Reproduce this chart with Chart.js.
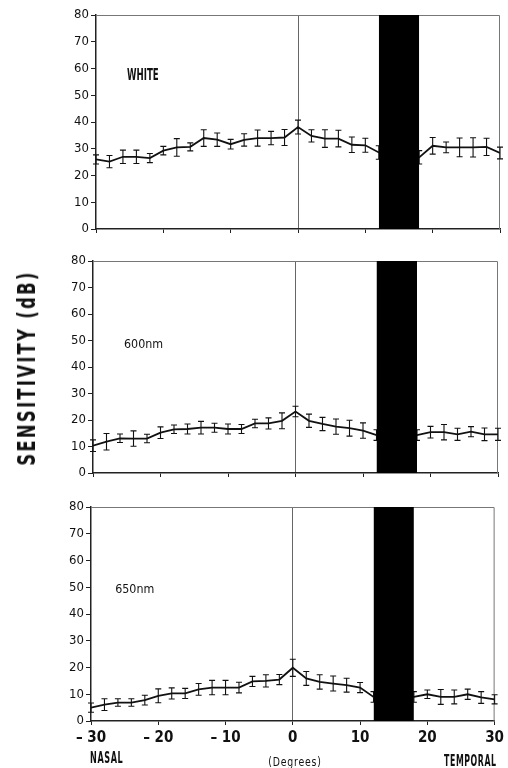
<!DOCTYPE html>
<html>
<head>
<meta charset="utf-8">
<script src="https://cdn.jsdelivr.net/npm/chart.js@4.4.1/dist/chart.umd.min.js"></script>
<style>
  body { margin: 0; background: #fff; }
  #wrap { position: relative; width: 508px; height: 768px; overflow: hidden; }
  canvas { position: absolute; left: 0; }
  .lbl { position: absolute; color: #111; font-family: 'DejaVu Sans Condensed', 'DejaVu Sans', sans-serif; font-stretch: condensed; white-space: nowrap; line-height: 1; }
  #ytitle { left: 27px; top: 368px; font-size: 24px; font-weight: bold; letter-spacing: 3px; transform: translate(-50%, -50%) rotate(-90deg) scaleX(0.76); }
  #nasal { left: 90px; top: 751px; font-size: 15px; font-weight: bold; letter-spacing: 1px; transform: scaleX(0.6); transform-origin: left center; }
  #degrees { left: 295px; top: 755px; font-size: 13px; letter-spacing: 1px; transform: translateX(-50%) scaleX(0.8); }
  #temporal { right: 11px; top: 754px; font-size: 15px; font-weight: bold; letter-spacing: 1px; transform: scaleX(0.58); transform-origin: right center; }
</style>
</head>
<body>
<div id="wrap">
  <canvas id="pWhite" width="508" height="245" style="top:0px"></canvas>
  <canvas id="p600" width="508" height="245" style="top:246px"></canvas>
  <canvas id="p650" width="508" height="276" style="top:492px"></canvas>
  <div class="lbl" id="ytitle">SENSITIVITY (dB)</div>
  <div class="lbl" id="nasal">NASAL</div>
  <div class="lbl" id="degrees">(Degrees)</div>
  <div class="lbl" id="temporal">TEMPORAL</div>
</div>
<script>
// eccentricity, degrees (nasal negative, temporal positive)
const degrees = [-30, -28, -26, -24, -22, -20, -18, -16, -14, -12, -10, -8, -6, -4, -2, 0,
                 2, 4, 6, 8, 10, 12, 14, 16, 18, 20, 22, 24, 26, 28, 30];

// mean sensitivity (dB) and error bar half-length; 14 & 16 are inside the blind spot
const whiteValues = [26, 25.2, 27, 27, 26.5, 29.3, 30.5, 30.7, 34, 33.4, 31.7, 33.3, 34, 34, 34.2, 38.1,
                     34.8, 33.8, 33.8, 31.5, 31.3, 28.6, null, null, 26.8, 31.1, 30.5, 30.5, 30.5, 30.7, 28.4];
const whiteErrors = [1.7, 2.3, 2.5, 2.5, 1.7, 1.6, 3.3, 1.5, 3.1, 2.5, 1.8, 2.3, 3, 2.5, 3, 2.6,
                     2.3, 3.3, 3.1, 2.9, 2.6, 2.5, null, null, 2.5, 3.1, 2, 3.5, 3.6, 3.2, 2.2];

const nm600Values = [10.3, 11.8, 13.1, 13, 13, 15.2, 16.5, 16.6, 17.1, 17.1, 16.6, 16.6, 18.7, 18.7, 19.7, 23.2,
                     19.7, 18.5, 17.5, 16.9, 16, 14.3, null, null, 14.3, 15.4, 15.4, 14.6, 15.6, 14.6, 14.6];
const nm600Errors = [2.2, 3.1, 1.6, 2.9, 1.6, 2.2, 1.6, 1.9, 2.4, 1.7, 1.9, 1.7, 1.6, 2.1, 3, 2,
                     2.5, 2.5, 2.9, 3, 2.9, 2, null, null, 2, 2.2, 2.9, 2.3, 1.9, 2.4, 2.3];

const nm650Values = [5, 6.1, 6.9, 6.9, 7.8, 9.4, 10.3, 10.3, 11.8, 12.5, 12.5, 12.5, 14.8, 15, 15.5, 19.9,
                     15.9, 14.6, 14, 13.4, 12.5, 9, null, null, 9, 10, 9, 9, 10, 8.8, 8.1];
const nm650Errors = [1.75, 2.2, 1.4, 1.4, 1.8, 2.6, 2.1, 1.9, 2.2, 2.7, 2.7, 2, 1.9, 2.3, 1.9, 3.2,
                     2.6, 2.7, 2.8, 2.6, 1.9, 2, null, null, 2, 1.6, 2.8, 2.6, 1.9, 2.2, 1.7];

// optic disc (blind spot), degrees
const blindSpot = [12, 18];

const FONT = "'DejaVu Sans Condensed', 'DejaVu Sans', sans-serif";

// error bars, drawn right after the data line so the blind-spot bar covers them
const errorBars = {
  id: 'errorBars',
  afterDatasetDraw(chart, args) {
    const ds = chart.data.datasets[args.index];
    if (!ds.errors) return;
    const { ctx, scales: { x, y } } = chart;
    ctx.save();
    ctx.strokeStyle = '#111';
    ctx.lineWidth = 1.1;
    ds.data.forEach((p, i) => {
      const e = ds.errors[i];
      if (p.y == null || e == null) return;
      const px = x.getPixelForValue(p.x);
      const y1 = y.getPixelForValue(p.y - e);
      const y2 = y.getPixelForValue(p.y + e);
      ctx.beginPath();
      ctx.moveTo(px, y1); ctx.lineTo(px, y2);
      ctx.moveTo(px - 3, y1); ctx.lineTo(px + 3, y1);
      ctx.moveTo(px - 3, y2); ctx.lineTo(px + 3, y2);
      ctx.stroke();
    });
    ctx.restore();
  }
};

// thin top/right frame + the panel's stimulus label (narrowed, like the condensed original)
const frame = {
  id: 'frame',
  beforeDatasetsDraw(chart) {
    const { ctx, chartArea: a } = chart;
    ctx.save();
    ctx.strokeStyle = '#777';
    ctx.lineWidth = 1;
    ctx.beginPath();
    ctx.moveTo(a.left, a.top + 0.5); ctx.lineTo(a.right - 0.5, a.top + 0.5); ctx.lineTo(a.right - 0.5, a.bottom);
    ctx.stroke();
    ctx.restore();
  },
  afterDraw(chart, args, opts) {
    if (!opts.text) return;
    const { ctx, scales: { x, y } } = chart;
    ctx.save();
    ctx.fillStyle = '#111';
    ctx.font = (opts.bold ? 'bold ' : '') + opts.size + 'px ' + FONT;
    ctx.textBaseline = 'middle';
    ctx.translate(x.getPixelForValue(opts.at[0]), y.getPixelForValue(opts.at[1]));
    ctx.scale(opts.squeeze, 1);
    ctx.fillText(opts.text, 0, 0);
    ctx.restore();
  }
};

function makePanel(id, values, errors, cfg) {
  const ctx = document.getElementById(id);
  new Chart(ctx, {
    type: 'line',
    data: {
      datasets: [
        {
          data: blindSpot.map(d => ({ x: d, y: 80 })),
          borderWidth: 0,
          pointRadius: 0,
          backgroundColor: '#000',
          fill: 'origin',
          order: 0
        },
        {
          data: degrees.map((d, i) => ({ x: d, y: values[i] })),
          errors,
          borderColor: '#111',
          borderWidth: 1.8,
          pointRadius: 0,
          tension: 0,
          spanGaps: true,
          fill: false,
          order: 1
        }
      ]
    },
    options: {
      responsive: false,
      animation: false,
      devicePixelRatio: 1,
      layout: { padding: { top: 15, right: cfg.right, left: 0, bottom: 0 } },
      scales: {
        x: {
          type: 'linear',
          min: -30,
          max: 30,
          afterFit: s => { s.height = cfg.xHeight; },
          ticks: {
            stepSize: 10,
            display: cfg.xLabels,
            color: '#111',
            padding: 4,
            font: { family: FONT, size: 15, weight: 'bold' },
            callback: v => v < 0 ? '\u2013 ' + Math.abs(v) : String(v)
          },
          grid: {
            color: c => (c.tick && c.tick.value === 0) ? '#666' : 'rgba(0,0,0,0)',
            lineWidth: 1,
            tickColor: '#222',
            tickLength: 4
          },
          border: { color: '#222', width: 1.5 }
        },
        y: {
          min: 0,
          max: 80,
          afterFit: s => { s.width = cfg.left; },
          ticks: {
            stepSize: 10,
            color: '#111',
            padding: 2,
            font: { family: FONT, size: 13 }
          },
          grid: { drawOnChartArea: false, tickColor: '#222', tickLength: 5 },
          border: { color: '#222', width: 1.5 }
        }
      },
      plugins: {
        legend: { display: false },
        tooltip: { enabled: false },
        frame: cfg.label
      }
    },
    plugins: [errorBars, frame]
  });
}

makePanel('pWhite', whiteValues, whiteErrors,
  { left: 96, right: 8, xHeight: 16, xLabels: false,
    label: { text: 'WHITE', at: [-25.4, 57.2], bold: true, size: 15, squeeze: 0.64 } });
makePanel('p600', nm600Values, nm600Errors,
  { left: 93, right: 10, xHeight: 18, xLabels: false,
    label: { text: '600nm', at: [-25.4, 48.6], bold: false, size: 13, squeeze: 0.95 } });
makePanel('p650', nm650Values, nm650Errors,
  { left: 91, right: 12, xHeight: 47, xLabels: true,
    label: { text: '650nm', at: [-26.4, 49.2], bold: false, size: 13, squeeze: 0.95 } });
</script>
</body>
</html>
